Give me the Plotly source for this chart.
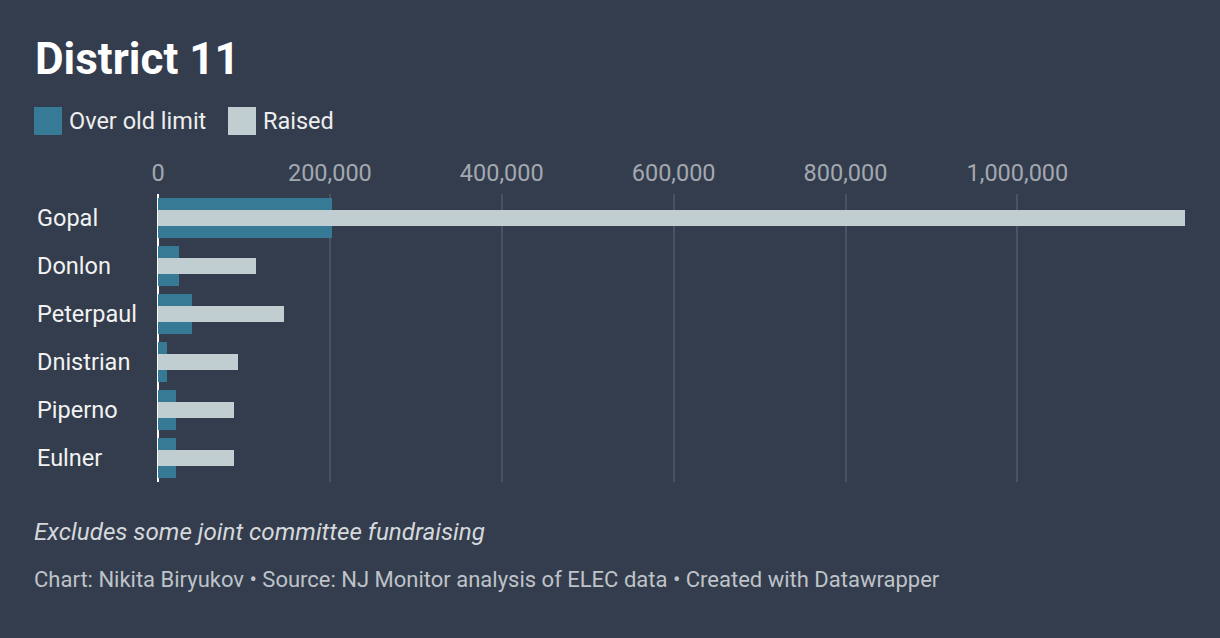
import plotly.graph_objects as go

candidates = ["Gopal", "Donlon", "Peterpaul", "Dnistrian", "Piperno", "Eulner"]
over_old_limit = [202000, 25000, 39000, 11000, 20400, 20400]
raised = [1195000, 113600, 146200, 92600, 88000, 88000]
tick_values = [0, 200000, 400000, 600000, 800000, 1000000]
tick_labels = ["0", "200,000", "400,000", "600,000", "800,000", "1,000,000"]

BG = "#333d4d"
TEAL = "#377a96"
LIGHT = "#c0cdd1"
FONT = "Roboto"

W, H = 1220, 638
L, R, T, B = 158, 35, 194, 156
PW, PH = W - L - R, H - T - B


def px_x(x):
    return (x - L) / PW


def px_y(y):
    return (H - B - y) / PH


fig = go.Figure()
fig.add_trace(go.Bar(
    y=candidates, x=over_old_limit, orientation="h", name="Over old limit",
    marker=dict(color=TEAL, line=dict(width=0)), width=0.833,
    hoverinfo="x+y",
))
fig.add_trace(go.Bar(
    y=candidates, x=raised, orientation="h", name="Raised",
    marker=dict(color=LIGHT, line=dict(width=0)), width=0.333,
    hoverinfo="x+y",
))

annotations = []
for c in candidates:
    annotations.append(dict(
        x=px_x(35), xref="paper", y=c, yref="y", text=c, showarrow=False,
        xanchor="left", yanchor="middle",
        font=dict(family=FONT, size=23.5, color="#f2f2f2"),
    ))

annotations.append(dict(
    x=px_x(33), xref="paper", y=px_y(59), yref="paper", text="<b>District 11</b>",
    showarrow=False, xanchor="left", yanchor="middle",
    font=dict(family=FONT, size=44, color="#ffffff"),
))
annotations.append(dict(
    x=px_x(67), xref="paper", y=px_y(121), yref="paper", text="Over old limit",
    showarrow=False, xanchor="left", yanchor="middle",
    font=dict(family=FONT, size=23.5, color="#eeeeee"),
))
annotations.append(dict(
    x=px_x(261), xref="paper", y=px_y(121), yref="paper", text="Raised",
    showarrow=False, xanchor="left", yanchor="middle",
    font=dict(family=FONT, size=23.5, color="#eeeeee"),
))
annotations.append(dict(
    x=px_x(32), xref="paper", y=px_y(532), yref="paper",
    text="<i>Excludes some joint committee fundraising</i>",
    showarrow=False, xanchor="left", yanchor="middle",
    font=dict(family=FONT, size=24.2, color="#d6d8dc"),
))
annotations.append(dict(
    x=px_x(32), xref="paper", y=px_y(579), yref="paper",
    text="Chart: Nikita Biryukov \u2022 Source: NJ Monitor analysis of ELEC data \u2022 Created with Datawrapper",
    showarrow=False, xanchor="left", yanchor="middle",
    font=dict(family=FONT, size=22, color="#bfc3c9"),
))

shapes = [
    dict(type="rect", xref="paper", yref="paper",
         x0=px_x(34), x1=px_x(62), y0=px_y(135), y1=px_y(107),
         fillcolor=TEAL, line=dict(width=0)),
    dict(type="rect", xref="paper", yref="paper",
         x0=px_x(228), x1=px_x(256), y0=px_y(135), y1=px_y(107),
         fillcolor=LIGHT, line=dict(width=0)),
]

fig.update_layout(
    width=W, height=H,
    margin=dict(l=L, r=R, t=T, b=B, pad=0),
    paper_bgcolor=BG, plot_bgcolor=BG,
    barmode="overlay", bargap=0,
    showlegend=False,
    font=dict(family=FONT),
    annotations=annotations,
    shapes=shapes,
    xaxis=dict(
        side="top", range=[0, 1195000], tickvals=tick_values, ticktext=tick_labels,
        showgrid=True, gridcolor="#4b5363", gridwidth=2,
        zeroline=True, zerolinecolor="#ffffff", zerolinewidth=2,
        showline=False, ticks="outside", ticklen=3, tickcolor=BG,
        tickfont=dict(family=FONT, size=23.5, color="#a3a8b0"),
        fixedrange=True,
    ),
    yaxis=dict(
        autorange="reversed", showticklabels=False, showgrid=False,
        zeroline=False, showline=False, fixedrange=True,
    ),
)

fig.write_html(
    "out.html",
    config={"displayModeBar": False},
    post_script="document.body.style.margin='0';document.body.style.background='%s';" % BG,
)
